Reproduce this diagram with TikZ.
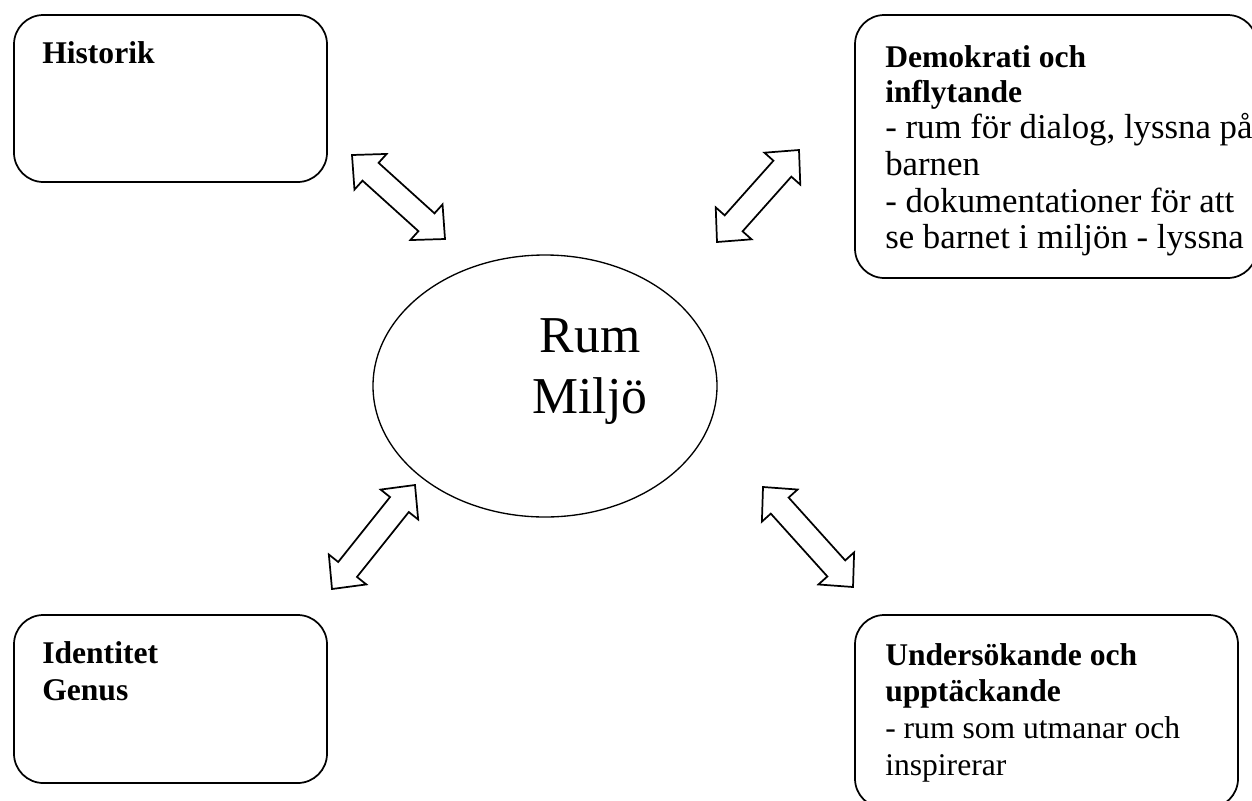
\documentclass[tikz,border=0pt]{standalone}
\usepackage{fontspec}
\setmainfont{Liberation Serif}
\usetikzlibrary{shapes.geometric,calc}
\tikzset{
  box/.style={draw, line width=1.3pt, rounded corners=22pt, inner sep=0pt},
  txt/.style={anchor=base west, inner sep=0pt, font=\fontsize{23.7}{27.4}\selectfont},
  hdr/.style={anchor=base west, inner sep=0pt, font=\fontsize{23.7}{27.4}\selectfont\bfseries},
  txtbig/.style={anchor=base west, inner sep=0pt, font=\fontsize{26.1}{27.4}\selectfont},
  centretxt/.style={anchor=base, inner sep=0pt, font=\fontsize{38.8}{46}\selectfont},
  blockarrow/.style={draw, line width=1.3pt, fill=white, line join=miter}
}
\newcommand\twowayarrow[2]{%
  \draw[blockarrow] (#1)
  -- ($(#1)!18.75pt!(#2)!18pt!90:(#2)$)
  -- ($(#1)!18.75pt!(#2)!9pt!90:(#2)$)
  -- ($(#2)!18.75pt!(#1)!9pt!-90:(#1)$)
  -- ($(#2)!18.75pt!(#1)!18pt!-90:(#1)$)
  -- (#2)
  -- ($(#2)!18.75pt!(#1)!18pt!90:(#1)$)
  -- ($(#2)!18.75pt!(#1)!9pt!90:(#1)$)
  -- ($(#1)!18.75pt!(#2)!9pt!-90:(#2)$)
  -- ($(#1)!18.75pt!(#2)!18pt!-90:(#2)$)
  -- cycle;}
\begin{document}
\begin{tikzpicture}[x=0.75pt,y=-0.75pt]
\useasboundingbox (0,0) rectangle (1252,800);
\clip (0,0) rectangle (1252,800);

% boxes
\node[box, minimum width=234.75pt, minimum height=125.25pt] (hist) at (170.5,98.5) {};
\node[box, minimum width=234.75pt, minimum height=126pt] (ident) at (170.5,699) {};
\node[box, minimum width=301.5pt, minimum height=197.25pt] (demo) at (1056,146.5) {};
\node[box, minimum width=287.25pt, minimum height=144.75pt] (unders) at (1046.5,711.5) {};

% centre ellipse
\node[ellipse, draw, line width=1pt, inner sep=0pt, minimum width=258pt, minimum height=196.5pt] (rum) at (545,386) {};
\node[centretxt] (rum1) at (590,352) {Rum};
\node[centretxt] (rum2) at (590,413) {Miljö};

% box texts
\node[hdr] (h1) at (42,63) {Historik};

\node[hdr] (i1) at (42,663) {Identitet};
\node[hdr] (i2) at (42,700) {Genus};

\node[hdr] (d1) at (885,67) {Demokrati och};
\node[hdr] (d2) at (885,102) {inflytande};
\node[txtbig] (d3) at (885,138) {- rum för dialog, lyssna på};
\node[txtbig] (d4) at (885,175) {barnen};
\node[txtbig] (d5) at (885,212) {- dokumentationer för att};
\node[txtbig] (d6) at (885,248) {se barnet i miljön - lyssna};

\node[hdr] (u1) at (885,665) {Undersökande och};
\node[hdr] (u2) at (885,701.5) {upptäckande};
\node[txt] (u3) at (885,738) {- rum som utmanar och};
\node[txt] (u4) at (885,775) {inspirerar};

% arrow end points
\coordinate (tlA) at (352,155);
\coordinate (tlB) at (445,239);
\coordinate (trA) at (799,150);
\coordinate (trB) at (717,242);
\coordinate (blA) at (415,485);
\coordinate (blB) at (332,589);
\coordinate (brA) at (763,487);
\coordinate (brB) at (853,587);

\twowayarrow{tlA}{tlB}
\twowayarrow{trA}{trB}
\twowayarrow{blA}{blB}
\twowayarrow{brA}{brB}
\end{tikzpicture}
\end{document}
